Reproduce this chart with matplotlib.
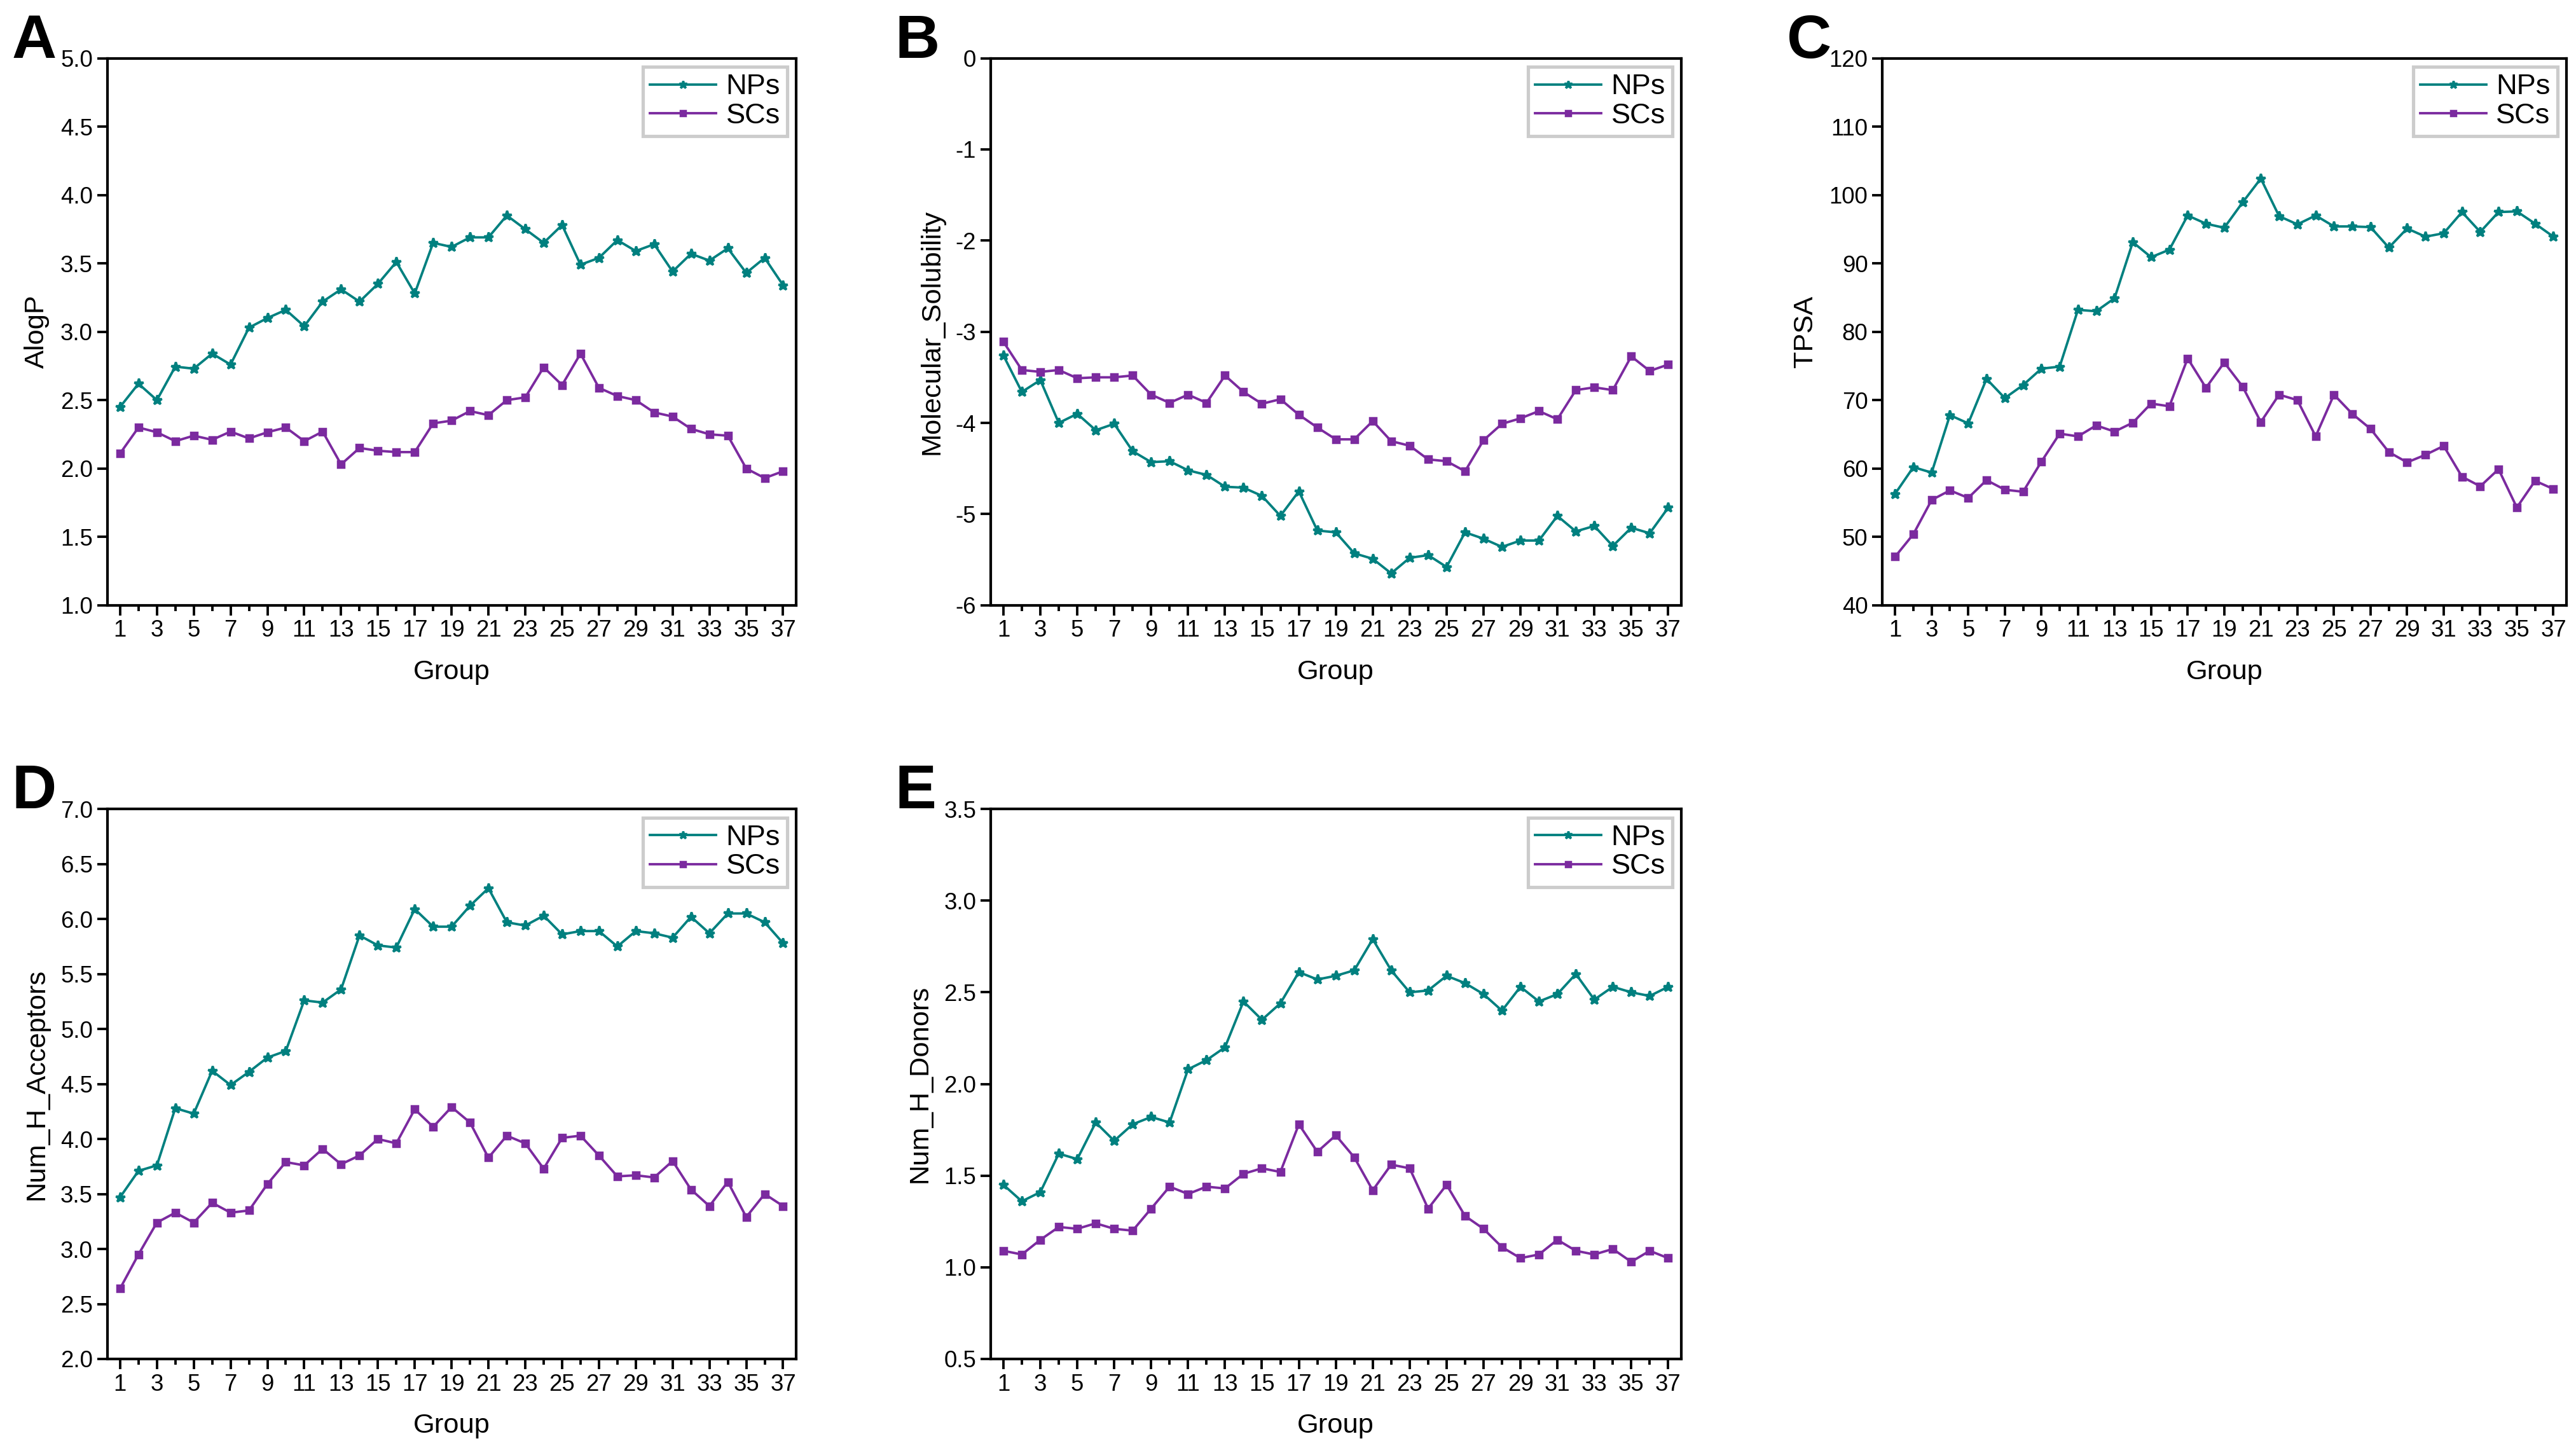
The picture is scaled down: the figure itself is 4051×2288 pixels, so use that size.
import matplotlib
matplotlib.use("Agg")
import matplotlib.pyplot as plt
from matplotlib.ticker import MultipleLocator, FormatStrFormatter

plt.rcParams['font.family'] = ['Liberation Sans', 'DejaVu Sans']

groups = list(range(1, 38))

# A: AlogP
alogp_np = [2.45, 2.62, 2.50, 2.745, 2.73, 2.84, 2.76, 3.03, 3.10, 3.16, 3.04, 3.22, 3.31,
            3.22, 3.35, 3.51, 3.28, 3.65, 3.62, 3.69, 3.69, 3.85, 3.75, 3.65, 3.78, 3.49,
            3.54, 3.67, 3.59, 3.64, 3.44, 3.57, 3.52, 3.61, 3.43, 3.54, 3.34]
alogp_sc = [2.11, 2.30, 2.265, 2.20, 2.24, 2.21, 2.27, 2.22, 2.265, 2.30, 2.20, 2.27, 2.03,
            2.15, 2.13, 2.12, 2.12, 2.33, 2.35, 2.42, 2.39, 2.50, 2.52, 2.74, 2.61, 2.84,
            2.59, 2.53, 2.50, 2.41, 2.38, 2.29, 2.25, 2.24, 2.00, 1.93, 1.98]

# B: Molecular_Solubility
sol_np = [-3.26, -3.66, -3.53, -4.00, -3.90, -4.08, -4.01, -4.31, -4.43, -4.42, -4.52, -4.57,
          -4.70, -4.71, -4.80, -5.02, -4.75, -5.18, -5.20, -5.43, -5.49, -5.65, -5.48, -5.45,
          -5.58, -5.20, -5.27, -5.36, -5.29, -5.29, -5.02, -5.19, -5.13, -5.35, -5.15, -5.21,
          -4.93]
sol_sc = [-3.11, -3.42, -3.44, -3.42, -3.51, -3.50, -3.50, -3.48, -3.69, -3.78, -3.69, -3.78,
          -3.48, -3.66, -3.79, -3.74, -3.91, -4.05, -4.18, -4.18, -3.98, -4.20, -4.25, -4.40,
          -4.42, -4.53, -4.19, -4.01, -3.95, -3.87, -3.96, -3.64, -3.61, -3.64, -3.27, -3.43,
          -3.36]

# C: TPSA
tpsa_np = [56.3, 60.2, 59.4, 67.8, 66.6, 73.1, 70.3, 72.2, 74.6, 74.9, 83.2, 83.0, 84.9,
           93.1, 90.9, 92.0, 97.0, 95.8, 95.2, 98.9, 102.4, 96.9, 95.7, 97.0, 95.4, 95.4,
           95.3, 92.3, 95.1, 93.9, 94.4, 97.5, 94.6, 97.5, 97.6, 95.8, 93.9]
tpsa_sc = [47.1, 50.4, 55.4, 56.8, 55.7, 58.3, 56.9, 56.6, 61.0, 65.1, 64.7, 66.3, 65.4,
           66.7, 69.5, 69.1, 76.1, 71.8, 75.5, 72.0, 66.8, 70.8, 70.0, 64.7, 70.8, 68.0,
           65.8, 62.4, 60.9, 62.0, 63.3, 58.8, 57.4, 59.9, 54.3, 58.2, 57.0]

# D: Num_H_Acceptors
hba_np = [3.47, 3.71, 3.76, 4.28, 4.23, 4.62, 4.49, 4.61, 4.74, 4.80, 5.26, 5.24, 5.36,
          5.85, 5.76, 5.74, 6.09, 5.93, 5.93, 6.12, 6.28, 5.97, 5.94, 6.03, 5.86, 5.89,
          5.89, 5.75, 5.89, 5.87, 5.83, 6.02, 5.87, 6.05, 6.05, 5.97, 5.78]
hba_sc = [2.64, 2.95, 3.24, 3.33, 3.24, 3.42, 3.33, 3.35, 3.59, 3.79, 3.76, 3.91, 3.77,
          3.85, 4.00, 3.96, 4.27, 4.11, 4.29, 4.15, 3.83, 4.03, 3.96, 3.73, 4.01, 4.03,
          3.85, 3.66, 3.67, 3.65, 3.80, 3.54, 3.39, 3.61, 3.29, 3.50, 3.39]

# E: Num_H_Donors
hbd_np = [1.45, 1.36, 1.41, 1.62, 1.59, 1.79, 1.69, 1.78, 1.82, 1.79, 2.08, 2.13, 2.20,
          2.45, 2.35, 2.44, 2.61, 2.57, 2.59, 2.62, 2.79, 2.62, 2.50, 2.51, 2.59, 2.55,
          2.49, 2.40, 2.53, 2.45, 2.49, 2.60, 2.46, 2.53, 2.50, 2.48, 2.53]
hbd_sc = [1.09, 1.07, 1.15, 1.22, 1.21, 1.24, 1.21, 1.20, 1.32, 1.44, 1.40, 1.44, 1.43,
          1.51, 1.54, 1.52, 1.78, 1.63, 1.72, 1.60, 1.42, 1.56, 1.54, 1.32, 1.45, 1.28,
          1.21, 1.11, 1.05, 1.07, 1.15, 1.09, 1.07, 1.10, 1.03, 1.09, 1.05]

np_color = '#00807f'
sc_color = '#7b2a9f'

fig = plt.figure(figsize=(4051 / 250, 2288 / 250), dpi=250)

col_x = [(0.0416, 0.309), (0.3845, 0.6526), (0.7307, 0.9962)]
row_y = [(0.584, 0.960), (0.066, 0.444)]

panels = [
    ('A', 0, 0, alogp_np, alogp_sc, 'AlogP', (1.0, 5.0), 0.5, '%.1f'),
    ('B', 0, 1, sol_np, sol_sc, 'Molecular_Solubility', (-6, 0), 1, '%d'),
    ('C', 0, 2, tpsa_np, tpsa_sc, 'TPSA', (40, 120), 10, '%d'),
    ('D', 1, 0, hba_np, hba_sc, 'Num_H_Acceptors', (2.0, 7.0), 0.5, '%.1f'),
    ('E', 1, 1, hbd_np, hbd_sc, 'Num_H_Donors', (0.5, 3.5), 0.5, '%.1f'),
]

for letter, r, c, yn, ys, ylab, ylim, step, fmt in panels:
    x0, x1 = col_x[c]
    y0, y1 = row_y[r]
    ax = fig.add_axes([x0, y0, x1 - x0, y1 - y0])
    ax.plot(groups, yn, color=np_color, lw=1.1, marker='*', ms=4.5, label='NPs')
    ax.plot(groups, ys, color=sc_color, lw=1.1, marker='s', ms=3, label='SCs')
    ax.set_xlim(0.3, 37.7)
    ax.set_ylim(*ylim)
    ax.xaxis.set_minor_locator(MultipleLocator(1))
    ax.set_xticks(range(1, 38, 2))
    ax.yaxis.set_major_locator(MultipleLocator(step))
    ax.yaxis.set_major_formatter(FormatStrFormatter(fmt))
    ax.tick_params(axis='both', which='major', direction='out', length=4.5, width=1.1,
                   labelsize=10.5, pad=2)
    ax.tick_params(axis='x', which='minor', direction='out', length=2.5, width=1.1)
    ax.tick_params(axis='y', which='minor', left=False)
    for s in ax.spines.values():
        s.set_linewidth(1.2)
    ax.set_xlabel('Group', fontsize=12.5, labelpad=8)
    ax.set_ylabel(ylab, fontsize=12.5, labelpad=5)
    leg = ax.legend(loc='upper right', fontsize=13, frameon=True, fancybox=False,
                    handlelength=2.3, borderaxespad=0.3, borderpad=0.25,
                    labelspacing=0.1, handletextpad=0.35, markerscale=0.8)
    leg.get_frame().set_edgecolor('#c0c0c0')
    leg.get_frame().set_linewidth(1.5)
    fig.text(x0 - 0.037, y1 + 0.031, letter, fontsize=28, fontweight='bold', va='top', ha='left')

fig.savefig('out.png', dpi=250)
